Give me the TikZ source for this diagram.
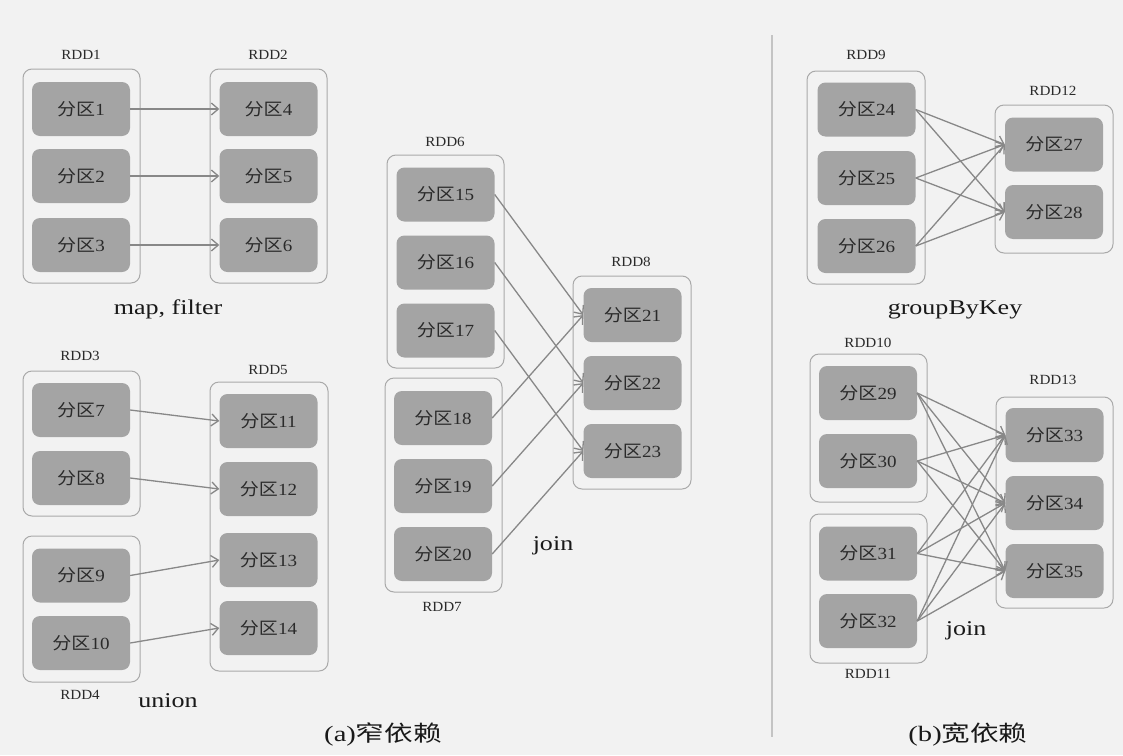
\documentclass[tikz,border=0pt]{standalone}
\usepackage{fontspec}
\setmainfont{Liberation Serif}
\newfontfamily\cjk{Noto Sans CJK SC}
\usetikzlibrary{arrows.meta}
\definecolor{bg}{HTML}{F2F2F2}
\definecolor{partfill}{HTML}{A4A4A4}
\definecolor{contline}{HTML}{A9A9A9}
\definecolor{arrowc}{HTML}{888888}
\definecolor{txt}{HTML}{2A2A2A}
\definecolor{divc}{HTML}{C4C4C4}
\newcommand{\fq}[1]{\scalebox{1.12}[1]{{\cjk 分区}#1}}
\newcommand{\rl}[1]{\scalebox{1.08}[1]{#1}}
\newcommand{\ol}[1]{\scalebox{1.24}[1]{#1}}
\newcommand{\cl}[1]{\scalebox{1.3}[1]{#1}}
\tikzset{
  partbox/.style={draw=none, fill=partfill, rounded corners=8pt, minimum width=98pt, minimum height=54pt, inner sep=0pt, text=txt, font=\fontsize{17}{19}\selectfont},
  contbox/.style={draw=contline, line width=1pt, fill=bg, rounded corners=9pt, inner sep=0pt},
  rddlabel/.style={text=txt, font=\fontsize{14}{16}\selectfont, inner sep=0pt},
  oplabel/.style={text=black!90, font=\fontsize{21}{24}\selectfont, inner sep=0pt},
  caption/.style={text=black!90, font=\fontsize{22}{24}\selectfont, inner sep=0pt},
  dep/.style={draw=arrowc, line width=1.3pt, -{Straight Barb[length=7pt,width=12pt]}},
}
\begin{document}
\begin{tikzpicture}[x=1pt,y=-1pt]
\fill[bg] (0,0) rectangle (1123,755);
\useasboundingbox (0,0) rectangle (1123,755);
% divider
\coordinate (d1) at (772,35);
\coordinate (d2) at (772,737);
\draw[divc, line width=2pt] (d1) -- (d2);

% ---------- map, filter ----------
\node[contbox, minimum width=117pt, minimum height=214pt] (c1) at (81.5,176) {};
\node[contbox, minimum width=117pt, minimum height=214pt] (c2) at (268.5,176) {};
\node[rddlabel] (l1) at (81,55) {\rl{RDD1}};
\node[rddlabel] (l2) at (268,55) {\rl{RDD2}};
\node[partbox] (p1) at (81,109) {\fq{1}};
\node[partbox] (p2) at (81,176) {\fq{2}};
\node[partbox] (p3) at (81,245) {\fq{3}};
\node[partbox] (p4) at (268.5,109) {\fq{4}};
\node[partbox] (p5) at (268.5,176) {\fq{5}};
\node[partbox] (p6) at (268.5,245) {\fq{6}};
\draw[dep] (p1.east) -- (p4.west);
\draw[dep] (p2.east) -- (p5.west);
\draw[dep] (p3.east) -- (p6.west);
\node[oplabel] (t1) at (168,309) {\ol{map, filter}};

% ---------- union ----------
\node[contbox, minimum width=117pt, minimum height=145pt] (c3) at (81.5,443.5) {};
\node[contbox, minimum width=117pt, minimum height=146pt] (c4) at (81.5,609) {};
\node[contbox, minimum width=118pt, minimum height=289pt] (c5) at (269,526.5) {};
\node[rddlabel] (l3) at (80,356) {\rl{RDD3}};
\node[rddlabel] (l4) at (80,695) {\rl{RDD4}};
\node[rddlabel] (l5) at (268,370) {\rl{RDD5}};
\node[partbox] (p7) at (81,410) {\fq{7}};
\node[partbox] (p8) at (81,478) {\fq{8}};
\node[partbox] (p9) at (81,575.5) {\fq{9}};
\node[partbox] (p10) at (81,643) {\fq{10}};
\node[partbox] (p11) at (268.5,421) {\fq{11}};
\node[partbox] (p12) at (268.5,489) {\fq{12}};
\node[partbox] (p13) at (268.5,560) {\fq{13}};
\node[partbox] (p14) at (268.5,628) {\fq{14}};
\draw[dep] (p7.east) -- (p11.west);
\draw[dep] (p8.east) -- (p12.west);
\draw[dep] (p9.east) -- (p13.west);
\draw[dep] (p10.east) -- (p14.west);
\node[oplabel] (t2) at (168,701) {\ol{union}};

% ---------- join (narrow) ----------
\node[contbox, minimum width=117pt, minimum height=213pt] (c6) at (445.5,261.5) {};
\node[contbox, minimum width=117pt, minimum height=214pt] (c7) at (443.5,485) {};
\node[contbox, minimum width=118pt, minimum height=213pt] (c8) at (632,382.5) {};
\node[rddlabel] (l6) at (445,142) {\rl{RDD6}};
\node[rddlabel] (l7) at (442,607) {\rl{RDD7}};
\node[rddlabel] (l8) at (631,262) {\rl{RDD8}};
\node[partbox] (p15) at (445.5,194.5) {\fq{15}};
\node[partbox] (p16) at (445.5,262.5) {\fq{16}};
\node[partbox] (p17) at (445.5,330.5) {\fq{17}};
\node[partbox] (p18) at (443,418) {\fq{18}};
\node[partbox] (p19) at (443,486) {\fq{19}};
\node[partbox] (p20) at (443,554) {\fq{20}};
\node[partbox] (p21) at (632.5,315) {\fq{21}};
\node[partbox] (p22) at (632.5,383) {\fq{22}};
\node[partbox] (p23) at (632.5,451) {\fq{23}};
\draw[dep] (p15.east) -- (p21.west);
\draw[dep] (p16.east) -- (p22.west);
\draw[dep] (p17.east) -- (p23.west);
\draw[dep] (p18.east) -- (p21.west);
\draw[dep] (p19.east) -- (p22.west);
\draw[dep] (p20.east) -- (p23.west);
\node[oplabel] (t3) at (553,546) {\ol{join}};

% ---------- groupByKey ----------
\node[contbox, minimum width=118pt, minimum height=213pt] (c9) at (866,177.5) {};
\node[contbox, minimum width=118pt, minimum height=148pt] (c12) at (1054,179) {};
\node[rddlabel] (l9) at (866,55) {\rl{RDD9}};
\node[rddlabel] (l12) at (1053,91) {\rl{RDD12}};
\node[partbox] (p24) at (866.5,109.5) {\fq{24}};
\node[partbox] (p25) at (866.5,178) {\fq{25}};
\node[partbox] (p26) at (866.5,246) {\fq{26}};
\node[partbox] (p27) at (1054,144.5) {\fq{27}};
\node[partbox] (p28) at (1054,212) {\fq{28}};
\foreach \s in {p24,p25,p26}{
  \foreach \t in {p27,p28}{
    \draw[dep] (\s.east) -- (\t.west);
  }
}
\node[oplabel] (t4) at (955,310) {\ol{groupByKey}};

% ---------- join (wide) ----------
\node[contbox, minimum width=117pt, minimum height=148pt] (c10) at (868.5,428) {};
\node[contbox, minimum width=117pt, minimum height=149pt] (c11) at (868.5,588.5) {};
\node[contbox, minimum width=117pt, minimum height=211pt] (c13) at (1054.5,502.5) {};
\node[rddlabel] (l10) at (868,343) {\rl{RDD10}};
\node[rddlabel] (l11) at (868,674) {\rl{RDD11}};
\node[rddlabel] (l13) at (1053,380) {\rl{RDD13}};
\node[partbox] (p29) at (868,393) {\fq{29}};
\node[partbox] (p30) at (868,461) {\fq{30}};
\node[partbox] (p31) at (868,553.5) {\fq{31}};
\node[partbox] (p32) at (868,621) {\fq{32}};
\node[partbox] (p33) at (1054.5,435) {\fq{33}};
\node[partbox] (p34) at (1054.5,503) {\fq{34}};
\node[partbox] (p35) at (1054.5,571) {\fq{35}};
\foreach \s in {p29,p30,p31,p32}{
  \foreach \t in {p33,p34,p35}{
    \draw[dep] (\s.east) -- (\t.west);
  }
}
\node[oplabel] (t5) at (966,631) {\ol{join}};

% captions
\node[caption] (ca) at (383,734) {\cl{(a){\cjk 窄依赖}}};
\node[caption] (cb) at (968,734) {\cl{(b){\cjk 宽依赖}}};
\end{tikzpicture}
\end{document}
